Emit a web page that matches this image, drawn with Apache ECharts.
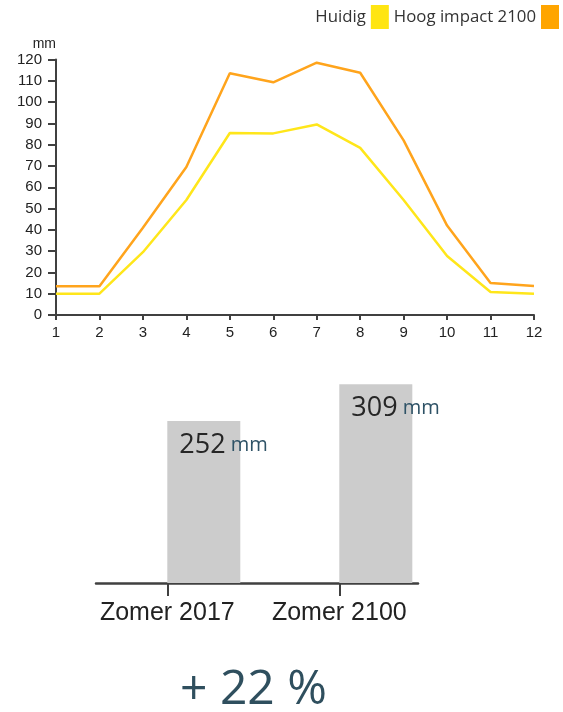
<!DOCTYPE html>
<html>
<head>
<meta charset="utf-8">
<script src="https://cdn.jsdelivr.net/npm/echarts@6/dist/echarts.min.js"></script>
<style>
  html, body { margin: 0; padding: 0; background: #fff; }
  #chart { width: 563px; height: 712px; }
</style>
</head>
<body>
<div id="chart"></div>
<script>
// Monthly precipitation (mm)
const months = ['1', '2', '3', '4', '5', '6', '7', '8', '9', '10', '11', '12'];
const huidig = [10, 10, 29.5, 54, 85.5, 85.3, 89.5, 78.5, 54, 27.7, 10.8, 10];
const hoogImpact2100 = [13.5, 13.5, 41, 69.5, 113.5, 109.3, 118.5, 113.8, 82, 42, 15, 13.6];
const yTicks = { min: 0, max: 120, interval: 10 };

// Summer totals (mm)
const periods = ['Zomer 2017', 'Zomer 2100'];
const summerTotals = [252, 309];
const changeLabel = '+ 22 %';

const chart = echarts.init(document.getElementById('chart'), null, { renderer: 'canvas' });

const axisColor = '#404040';
const labelFont = 'Liberation Sans, Arial, sans-serif';
const uiFont = 'Open Sans, sans-serif';

chart.setOption({
  animation: false,
  backgroundColor: '#ffffff',
  title: {
    text: changeLabel,
    left: 180,
    top: 666,
    padding: 0,
    textStyle: { fontFamily: uiFont, fontSize: 48, fontWeight: 'normal', color: '#2f4f5e' }
  },
  legend: {
    data: ['Huidig', 'Hoog impact 2100'],
    right: 4,
    top: 5,
    padding: 0,
    align: 'right',
    icon: 'rect',
    itemWidth: 18,
    itemHeight: 24,
    itemGap: 5,
    textStyle: { fontFamily: uiFont, fontSize: 16.8, color: '#333333' }
  },
  grid: [
    { left: 56, right: 29, top: 59.5, bottom: 397 },
    { left: 96, right: 145, top: 358, bottom: 129 }
  ],
  xAxis: [
    {
      gridIndex: 0,
      type: 'category',
      data: months,
      boundaryGap: false,
      axisLine: { lineStyle: { color: axisColor, width: 2 } },
      axisTick: { length: 5, lineStyle: { color: axisColor, width: 2 } },
      axisLabel: { margin: 10, fontFamily: labelFont, fontSize: 15, color: '#222' }
    },
    {
      gridIndex: 1,
      type: 'value',
      min: -0.4145,
      max: 1.4575,
      splitLine: { show: false },
      axisLine: { onZero: false, lineStyle: { color: axisColor, width: 2.5 } },
      axisTick: { customValues: [0, 1], length: 13, lineStyle: { color: axisColor, width: 2 } },
      axisLabel: {
        customValues: [0, 1],
        margin: 18,
        fontFamily: labelFont,
        fontSize: 25,
        color: '#222',
        formatter: v => periods[Math.round(v)]
      }
    }
  ],
  yAxis: [
    {
      gridIndex: 0,
      type: 'value',
      min: yTicks.min,
      max: yTicks.max,
      interval: yTicks.interval,
      name: 'mm',
      nameLocation: 'end',
      nameGap: 8,
      nameTextStyle: { fontFamily: labelFont, fontSize: 14, color: '#222', align: 'right' },
      splitLine: { show: false },
      axisLine: { show: true, lineStyle: { color: axisColor, width: 2 } },
      axisTick: { show: true, length: 8, lineStyle: { color: axisColor, width: 2 } },
      axisLabel: { margin: 14, fontFamily: labelFont, fontSize: 15, color: '#222' }
    },
    {
      gridIndex: 1,
      type: 'value',
      min: 0,
      max: 350,
      show: false
    }
  ],
  series: [
    {
      name: 'Huidig',
      type: 'line',
      xAxisIndex: 0,
      yAxisIndex: 0,
      data: huidig,
      showSymbol: false,
      color: '#FFE512',
      lineStyle: { width: 2.5, color: '#FFE61A' }
    },
    {
      name: 'Hoog impact 2100',
      type: 'line',
      xAxisIndex: 0,
      yAxisIndex: 0,
      data: hoogImpact2100,
      showSymbol: false,
      color: '#FFA500',
      lineStyle: { width: 2.5, color: '#FFA41C' }
    },
    {
      // empty companion bars so each grey bar starts at its tick
      type: 'bar',
      xAxisIndex: 1,
      yAxisIndex: 1,
      barWidth: 73,
      barGap: '0%',
      silent: true,
      itemStyle: { color: 'rgba(0,0,0,0)' },
      data: periods.map((p, i) => [i, 0])
    },
    {
      type: 'bar',
      xAxisIndex: 1,
      yAxisIndex: 1,
      barWidth: 73,
      barGap: '0%',
      clip: false,
      itemStyle: { color: '#cccccc' },
      data: summerTotals.map((v, i) => [i, v]),
      label: {
        show: true,
        position: [12, 9],
        formatter: p => '{v|' + p.value[1] + '}{u| mm}',
        rich: {
          v: { fontFamily: uiFont, fontSize: 27, lineHeight: 30, color: '#262626' },
          u: { fontFamily: uiFont, fontSize: 20, lineHeight: 30, color: '#2e5266' }
        }
      }
    }
  ]
});
</script>
</body>
</html>
